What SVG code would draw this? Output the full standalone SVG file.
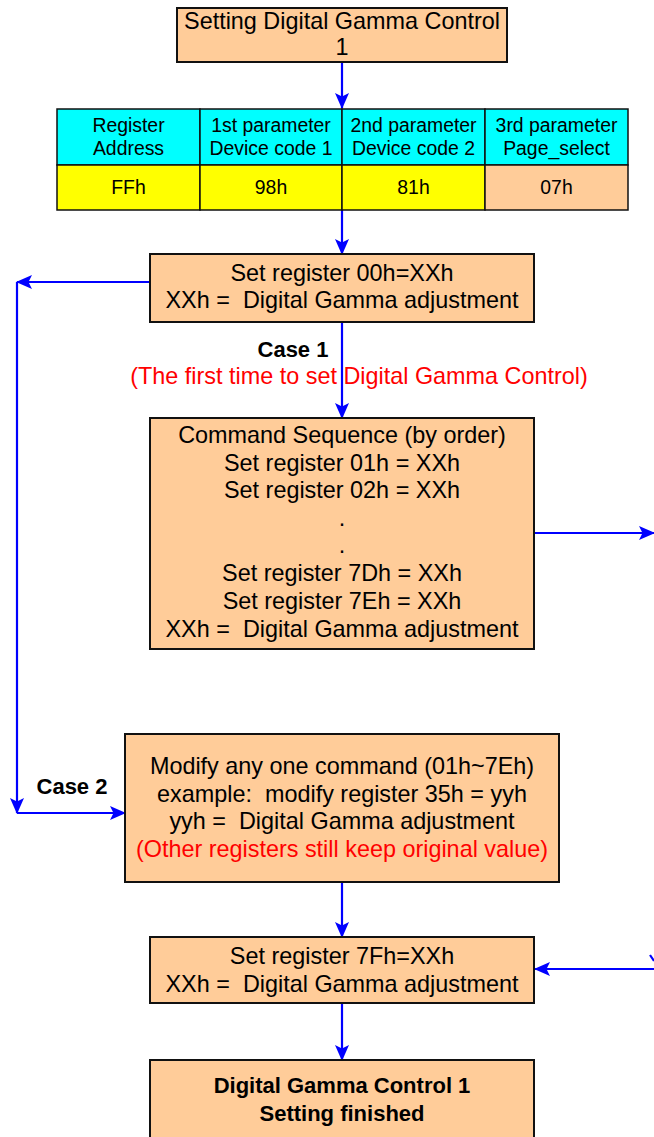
<svg xmlns="http://www.w3.org/2000/svg" width="654" height="1137" viewBox="0 0 654 1137">
<style>
.box{fill:#FFCC99;stroke:#111;stroke-width:2}
.cell{stroke:#111;stroke-width:1.5}
.t{font-family:"Liberation Sans",Arial,sans-serif;font-size:23.4px;fill:#000;text-anchor:middle;white-space:pre}
.ts{font-family:"Liberation Sans",Arial,sans-serif;font-size:19.4px;fill:#000;text-anchor:middle}
.b{font-weight:bold;font-size:22px}
.red{fill:#FF0000}
.c{stroke:#0000FF;stroke-width:2.2;fill:none}
</style>
<defs>
<marker id="ah" viewBox="0 0 16 16" refX="15" refY="8" markerWidth="16" markerHeight="16" markerUnits="userSpaceOnUse" orient="auto">
<path d="M0,1 L16,8 L0,15 L3.5,8 Z" fill="#0000FF"/>
</marker>
</defs>
<g id="connectors">
<line class="c" x1="342" y1="62" x2="342" y2="108" marker-end="url(#ah)"/>
<line class="c" x1="342" y1="210" x2="342" y2="254" marker-end="url(#ah)"/>
<line class="c" x1="342" y1="322" x2="342" y2="418" marker-end="url(#ah)"/>
<line class="c" x1="150" y1="282" x2="17" y2="282" marker-end="url(#ah)"/>
<line class="c" x1="17" y1="282" x2="17" y2="813" marker-end="url(#ah)"/>
<line class="c" x1="17" y1="813" x2="125" y2="813" marker-end="url(#ah)"/>
<line class="c" x1="534" y1="533" x2="654" y2="533" marker-end="url(#ah)"/>
<line class="c" x1="342" y1="882" x2="342" y2="937" marker-end="url(#ah)"/>
<line class="c" x1="656" y1="969" x2="535" y2="969" marker-end="url(#ah)"/>
<line class="c" x1="650" y1="955" x2="654" y2="961"/>
<line class="c" x1="342" y1="1003" x2="342" y2="1060" marker-end="url(#ah)"/>
</g>
<g id="start">
<rect class="box" x="177" y="8" width="330" height="54"/>
<text class="t" x="342" y="29">Setting Digital Gamma Control</text>
<text class="t" x="342" y="55">1</text>
</g>
<g id="table">
<rect class="cell" x="57" y="109" width="143" height="56" fill="#00FFFF"/>
<rect class="cell" x="200" y="109" width="142" height="56" fill="#00FFFF"/>
<rect class="cell" x="342" y="109" width="143" height="56" fill="#00FFFF"/>
<rect class="cell" x="485" y="109" width="143" height="56" fill="#00FFFF"/>
<rect class="cell" x="57" y="165" width="143" height="45" fill="#FFFF00"/>
<rect class="cell" x="200" y="165" width="142" height="45" fill="#FFFF00"/>
<rect class="cell" x="342" y="165" width="143" height="45" fill="#FFFF00"/>
<rect class="cell" x="485" y="165" width="143" height="45" fill="#FFCC99"/>
<text class="ts" x="128.5" y="132">Register</text>
<text class="ts" x="128.5" y="155">Address</text>
<text class="ts" x="271" y="132">1st parameter</text>
<text class="ts" x="271" y="155">Device code 1</text>
<text class="ts" x="413.5" y="132">2nd parameter</text>
<text class="ts" x="413.5" y="155">Device code 2</text>
<text class="ts" x="556.5" y="132">3rd parameter</text>
<text class="ts" x="556.5" y="155">Page_select</text>
<text class="ts" x="128.5" y="194">FFh</text>
<text class="ts" x="271" y="194">98h</text>
<text class="ts" x="413.5" y="194">81h</text>
<text class="ts" x="556.5" y="194">07h</text>
</g>
<g id="set00">
<rect class="box" x="150" y="254" width="384" height="68"/>
<text class="t" x="342" y="281">Set register 00h=XXh</text>
<text class="t" x="342" y="308" xml:space="preserve">XXh =  Digital Gamma adjustment</text>
</g>
<g id="case1">
<text class="t b" x="293" y="357">Case 1</text>
<text class="t red" x="359" y="384">(The first time to set Digital Gamma Control)</text>
</g>
<g id="sequence">
<rect class="box" x="150" y="418" width="384" height="231"/>
<text class="t" x="342" y="443">Command Sequence (by order)</text>
<text class="t" x="342" y="471">Set register 01h = XXh</text>
<text class="t" x="342" y="498">Set register 02h = XXh</text>
<text class="t" x="342" y="526">.</text>
<text class="t" x="342" y="553">.</text>
<text class="t" x="342" y="581">Set register 7Dh = XXh</text>
<text class="t" x="342" y="609">Set register 7Eh = XXh</text>
<text class="t" x="342" y="637" xml:space="preserve">XXh =  Digital Gamma adjustment</text>
</g>
<g id="case2">
<text class="t b" x="72" y="794">Case 2</text>
</g>
<g id="modify">
<rect class="box" x="125" y="734" width="434" height="148"/>
<text class="t" x="342" y="774">Modify any one command (01h~7Eh)</text>
<text class="t" x="342" y="802" xml:space="preserve">example:  modify register 35h = yyh</text>
<text class="t" x="342" y="829" xml:space="preserve">yyh =  Digital Gamma adjustment</text>
<text class="t red" x="342" y="857">(Other registers still keep original value)</text>
</g>
<g id="set7f">
<rect class="box" x="150" y="937" width="384" height="66"/>
<text class="t" x="342" y="964">Set register 7Fh=XXh</text>
<text class="t" x="342" y="992" xml:space="preserve">XXh =  Digital Gamma adjustment</text>
</g>
<g id="finished">
<rect class="box" x="150" y="1060" width="384" height="90"/>
<text class="t b" x="342" y="1093">Digital Gamma Control 1</text>
<text class="t b" x="342" y="1121">Setting finished</text>
</g>
</svg>
